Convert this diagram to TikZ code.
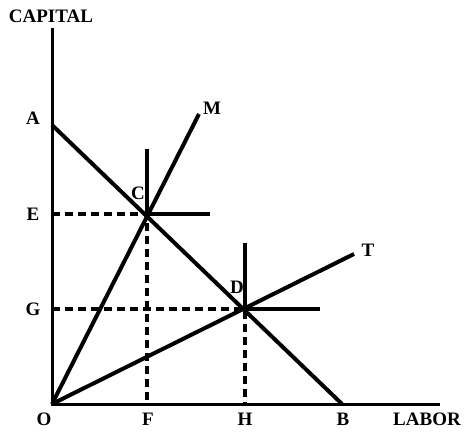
\documentclass[tikz,border=0pt]{standalone}
\usepackage{fontspec}
\setmainfont{Liberation Serif}
\begin{document}
\begin{tikzpicture}[x=1pt,y=-1pt,
  lbl/.style={font=\bfseries\fontsize{19}{19}\selectfont, inner sep=0pt},
  axis/.style={line width=3pt},
  thick line/.style={line width=4pt},
  guide/.style={line width=3.2pt, dash pattern=on 8pt off 5pt}]
\useasboundingbox (0,0) rectangle (466,433);
\coordinate (O) at (52,404);
\coordinate (Ytop) at (52,28);
\coordinate (Xend) at (440,404);
\coordinate (A) at (52,125);
\coordinate (B) at (342,404);
\coordinate (C) at (147,214);
\coordinate (D) at (245,309);
\coordinate (M) at (199,114);
\coordinate (T) at (354,254);
\coordinate (Ctop) at (147,149);
\coordinate (Cright) at (210,214);
\coordinate (Dtop) at (245,243);
\coordinate (Dright) at (320,309);
\coordinate (Ey) at (52,214);
\coordinate (Gy) at (52,309);
\coordinate (Fx) at (147,404);
\coordinate (Hx) at (245,404);
% guides
\draw[guide] (Ey) -- (C) -- (Fx);
\draw[guide] (Gy) -- (D) -- (Hx);
% axes
\draw[axis] (Ytop) -- (O) -- (Xend);
% lines
\draw[thick line] (A) -- (B);
\draw[thick line] (O) -- (M);
\draw[thick line] (O) -- (T);
\draw[thick line] (Ctop) -- (C) -- (Cright);
\draw[thick line] (Dtop) -- (D) -- (Dright);
% labels
\node[lbl] (capital) at (51,16) {CAPITAL};
\node[lbl] (labor) at (427,419) {LABOR};
\node[lbl] (lA) at (33,118) {A};
\node[lbl] (lE) at (33,214) {E};
\node[lbl] (lG) at (33,309) {G};
\node[lbl] (lO) at (44,419) {O};
\node[lbl] (lF) at (148,419) {F};
\node[lbl] (lH) at (245,419) {H};
\node[lbl] (lB) at (343,419) {B};
\node[lbl] (lC) at (138,193) {C};
\node[lbl] (lD) at (237,287) {D};
\node[lbl] (lM) at (212,108) {M};
\node[lbl] (lT) at (368,250) {T};
\end{tikzpicture}
\end{document}
